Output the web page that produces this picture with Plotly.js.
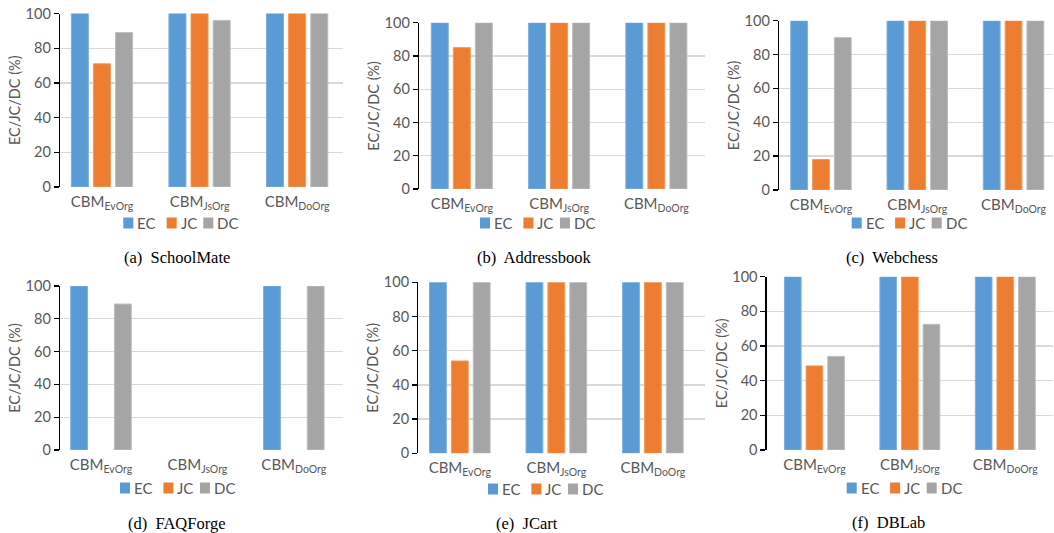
<!DOCTYPE html>
<html>
<head>
<meta charset="utf-8">
<script src="https://cdn.plot.ly/plotly-3.0.1.min.js"></script>
<style>html,body{margin:0;padding:0;background:#fff;}#chart{width:1054px;height:533px;}</style>
</head>
<body>
<div id="chart"></div>
<script>
// ---- data ----
const categories = ['CBM<sub>EvOrg</sub>', 'CBM<sub>JsOrg</sub>', 'CBM<sub>DoOrg</sub>'];
const seriesNames = ['EC', 'JC', 'DC'];
const panelNames = ['(a)  SchoolMate', '(b)  Addressbook', '(c)  Webchess', '(d)  FAQForge', '(e)  JCart', '(f)  DBLab'];
const yTicks = [0, 20, 40, 60, 80, 100];

const schoolmateEC = [100, 100, 100];
const schoolmateJC = [71, 100, 100];
const schoolmateDC = [89, 96, 100];

const addressbookEC = [100, 100, 100];
const addressbookJC = [85, 100, 100];
const addressbookDC = [100, 100, 100];

const webchessEC = [100, 100, 100];
const webchessJC = [18, 100, 100];
const webchessDC = [90, 100, 100];

const faqforgeEC = [100, 0, 100];
const faqforgeJC = [0, 0, 0];
const faqforgeDC = [89, 0, 100];

const jcartEC = [100, 100, 100];
const jcartJC = [54, 100, 100];
const jcartDC = [100, 100, 100];

const dblabEC = [100, 100, 100];
const dblabJC = [48.5, 100, 100];
const dblabDC = [54, 72.5, 100];

const panelSeries = [
  [schoolmateEC, schoolmateJC, schoolmateDC],
  [addressbookEC, addressbookJC, addressbookDC],
  [webchessEC, webchessJC, webchessDC],
  [faqforgeEC, faqforgeJC, faqforgeDC],
  [jcartEC, jcartJC, jcartDC],
  [dblabEC, dblabJC, dblabDC]
];

// ---- styling / layout geometry (pixels) ----
const W = 1054, H = 533;
const colors = ['#5B9BD5', '#ED7D31', '#A5A5A5'];
const lineColors = ['#7FB0DE', '#F29A5E', '#BDBDBD'];
const geom = [
  {L: 60,    R: 343,  T: 13.5,  B: 187,   r: [-0.43, 2.47], lx: 123.3, ly: 223, cx: 177, cy: 257},
  {L: 419,   R: 705,  T: 22.7,  B: 189,   r: [-0.44, 2.50], lx: 480,   ly: 223, cx: 534, cy: 257},
  {L: 779,   R: 1053, T: 20.7,  B: 190,   r: [-0.436, 2.41], lx: 851.7, ly: 223, cx: 892, cy: 257},
  {L: 60,    R: 343,  T: 286,   B: 450,   r: [-0.425, 2.51], lx: 120,   ly: 488, cx: 176, cy: 523},
  {L: 418.3, R: 705,  T: 282.3, B: 453.3, r: [-0.43, 2.54], lx: 488,   ly: 489, cx: 527, cy: 523},
  {L: 766.7, R: 1053, T: 276.7, B: 450,   r: [-0.50, 2.50], lx: 846.7, ly: 488, cx: 888, cy: 522}
];
const legendOffsets = [0, 43.4, 80];   // swatch left offsets within a legend row
const swatchW = 10, swatchH = 11;

const sansFamily = 'Lato, "Open Sans", sans-serif';
const tickFont = {family: sansFamily, size: 14.5, color: '#595959'};
const traces = [];
const layout = {
  width: W, height: H,
  margin: {l: 0, r: 0, t: 0, b: 0},
  paper_bgcolor: '#ffffff', plot_bgcolor: '#ffffff',
  barmode: 'group', bargap: 0.32, bargroupgap: 0.23,
  showlegend: false,
  annotations: [], shapes: []
};

geom.forEach((g, i) => {
  const n = i + 1;
  const xa = n === 1 ? 'x' : 'x' + n;
  const ya = n === 1 ? 'y' : 'y' + n;
  panelSeries[i].forEach((vals, s) => {
    traces.push({
      type: 'bar', x: categories, y: vals, name: seriesNames[s],
      xaxis: xa, yaxis: ya,
      marker: {color: colors[s], line: {color: lineColors[s], width: vals.map(v => v > 0 ? 1 : 0)}},
      hoverinfo: 'skip'
    });
  });
  layout[n === 1 ? 'xaxis' : 'xaxis' + n] = {
    domain: [g.L / W, g.R / W], anchor: ya, type: 'category',
    range: g.r, showgrid: false, zeroline: false, showline: false,
    ticks: '', ticklabelstandoff: 4, tickfont: {family: sansFamily, size: 15, color: '#595959'}, fixedrange: true
  };
  layout[n === 1 ? 'yaxis' : 'yaxis' + n] = {
    domain: [1 - g.B / H, 1 - g.T / H], anchor: xa,
    range: [0, 100], tickvals: yTicks, showgrid: true, gridcolor: '#D9D9D9', gridwidth: 1.3,
    zeroline: false, showline: true, linecolor: '#000000', linewidth: 1.3,
    ticks: 'outside', ticklen: 5, tickcolor: '#000000', tickwidth: 1.3,
    tickfont: tickFont, fixedrange: true,
    title: {text: 'EC/JC/DC (%)', font: {family: sansFamily, size: 14.5, color: '#595959'}, standoff: 1}
  };
  // legend row: swatches + labels
  seriesNames.forEach((nm, s) => {
    const x0 = g.lx + legendOffsets[s];
    layout.shapes.push({
      type: 'rect', xref: 'paper', yref: 'paper',
      x0: x0 / W, x1: (x0 + swatchW) / W,
      y0: 1 - (g.ly + swatchH / 2) / H, y1: 1 - (g.ly - swatchH / 2) / H,
      fillcolor: colors[s], line: {width: 0}
    });
    layout.annotations.push({
      text: nm, xref: 'paper', yref: 'paper', x: (x0 + swatchW + 2) / W, y: 1 - g.ly / H,
      xanchor: 'left', yanchor: 'middle', showarrow: false,
      font: {family: sansFamily, size: 15, color: '#595959'}
    });
  });
  layout.annotations.push({
    text: panelNames[i], xref: 'paper', yref: 'paper', x: g.cx / W, y: 1 - g.cy / H,
    xanchor: 'center', yanchor: 'middle', showarrow: false,
    font: {family: '"Liberation Serif", "Times New Roman", serif', size: 16.5, color: '#000000'}
  });
});

Plotly.newPlot('chart', traces, layout, {displayModeBar: false, staticPlot: true});
</script>
</body>
</html>
